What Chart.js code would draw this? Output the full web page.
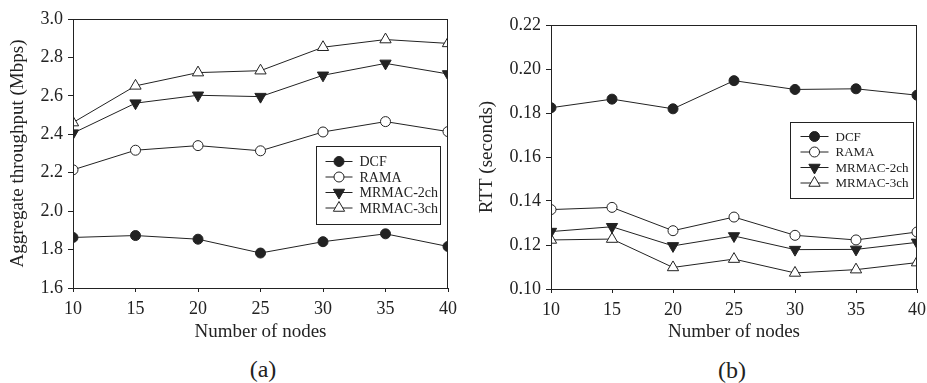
<!DOCTYPE html>
<html>
<head>
<meta charset="utf-8">
<script src="https://cdn.jsdelivr.net/npm/chart.js@4"></script>
<style>
    body { margin: 0; background: #fff; }
    .wrap { position: absolute; top: 0; height: 345px; }
    .cap { position: absolute; font: 24px "Liberation Serif", serif; color: #222; transform: translate(-50%, -50%); }
</style>
</head>
<body>
<div class="wrap" style="left:0;width:460px"><canvas id="thrChart"></canvas></div>
<div class="wrap" style="left:460px;width:467px"><canvas id="rttChart"></canvas></div>
<div class="cap" style="left:263px;top:369px">(a)</div>
<div class="cap" style="left:732px;top:370px">(b)</div>
<script>
// number of nodes
const nodes = [10, 15, 20, 25, 30, 35, 40];
const seriesNames = ['DCF', 'RAMA', 'MRMAC-2ch', 'MRMAC-3ch'];

// (a) aggregate throughput, Mbps
const thrDCF = [1.863, 1.873, 1.854, 1.782, 1.841, 1.882, 1.816];
const thrRAMA = [2.215, 2.317, 2.341, 2.314, 2.412, 2.466, 2.414];
const thr2ch = [2.406, 2.562, 2.603, 2.596, 2.707, 2.769, 2.714];
const thr3ch = [2.461, 2.652, 2.721, 2.731, 2.853, 2.893, 2.873];
const thrTicks = [1.6, 1.8, 2.0, 2.2, 2.4, 2.6, 2.8, 3.0];

// (b) RTT, seconds
const rttDCF = [0.1824, 0.1863, 0.1819, 0.1947, 0.1907, 0.1910, 0.1881];
const rttRAMA = [0.1361, 0.1371, 0.1265, 0.1327, 0.1244, 0.1223, 0.1259];
const rtt2ch = [0.1261, 0.1283, 0.1196, 0.1241, 0.1179, 0.1180, 0.1212];
const rtt3ch = [0.1223, 0.1227, 0.1098, 0.1136, 0.1073, 0.1088, 0.1120];
const rttTicks = [0.10, 0.12, 0.14, 0.16, 0.18, 0.20, 0.22];

const ink = '#222';
const serif = '"Liberation Serif", "Times New Roman", serif';

// marker look per series: filled circle, open circle, filled down-triangle, open up-triangle
const markers = [
    { pointStyle: 'circle', pointRadius: 5, pointBackgroundColor: ink, pointRotation: 0 },
    { pointStyle: 'circle', pointRadius: 5, pointBackgroundColor: '#fff', pointRotation: 0 },
    { pointStyle: 'triangle', pointRadius: 6.5, pointBackgroundColor: ink, pointRotation: 180 },
    { pointStyle: 'triangle', pointRadius: 6.5, pointBackgroundColor: '#fff', pointRotation: 0 }
];

function makeDatasets(list) {
    return list.map((vals, i) => Object.assign({
        label: seriesNames[i],
        data: nodes.map((n, k) => ({ x: n, y: vals[k] })),
        borderColor: ink,
        borderWidth: 1,
        pointBorderColor: ink,
        pointBorderWidth: 1,
        pointHoverRadius: 5,
        tension: 0
    }, markers[i]));
}

// frame around the plot area + boxed legend inside it
const boxLegend = {
    id: 'boxLegend',
    afterDatasetsDraw(chart, args, o) {
        const ctx = chart.ctx, a = chart.chartArea;
        ctx.save();
        ctx.strokeStyle = ink;
        ctx.lineWidth = 1;
        ctx.strokeRect(Math.round(a.left) + 0.5, Math.round(a.top) + 0.5,
            Math.round(a.right - a.left) - 1, Math.round(a.bottom - a.top));

        const bx = Math.round(a.right - o.right - o.width) + 0.5;
        const by = Math.round(a.top + o.top) + 0.5;
        ctx.fillStyle = '#fff';
        ctx.fillRect(bx, by, o.width, o.height);
        ctx.strokeRect(bx, by, o.width, o.height);

        ctx.font = o.fontSize + 'px ' + serif;
        ctx.textBaseline = 'middle';
        chart.data.datasets.forEach((ds, i) => {
            const cy = by + o.rowTop + i * o.rowGap;
            ctx.strokeStyle = ink;
            ctx.beginPath();
            ctx.moveTo(bx + o.line0, cy);
            ctx.lineTo(bx + o.line1, cy);
            ctx.stroke();
            ctx.fillStyle = ds.pointBackgroundColor;
            Chart.helpers.drawPoint(ctx, {
                pointStyle: ds.pointStyle,
                radius: ds.pointRadius,
                rotation: ds.pointRotation,
                borderWidth: 1
            }, bx + (o.line0 + o.line1) / 2, cy);
            ctx.fillStyle = ink;
            ctx.fillText(ds.label, bx + o.textX, cy + 1);
        });
        ctx.restore();
    }
};

function makeChart(id, datasets, yTicks, digits, yTitle, dims) {
    const ctx = document.getElementById(id).getContext('2d');
    return new Chart(ctx, {
        type: 'line',
        data: { datasets: datasets },
        options: {
            responsive: true,
            maintainAspectRatio: false,
            animation: false,
            layout: { padding: { top: dims.top, right: dims.right, left: 0, bottom: 0 } },
            scales: {
                x: {
                    type: 'linear',
                    min: nodes[0],
                    max: nodes[nodes.length - 1],
                    afterBuildTicks: (s) => { s.ticks = nodes.map(v => ({ value: v })); },
                    afterFit: (s) => { s.height = dims.xH; s.paddingLeft = 0; s.paddingRight = 0; },
                    grid: { display: true, drawOnChartArea: false, tickLength: 4, color: ink },
                    border: { display: true, color: ink },
                    ticks: { color: ink, padding: 6, maxRotation: 0, font: { family: serif, size: 18 } },
                    title: { display: true, text: 'Number of nodes', color: ink,
                        padding: { top: 0, bottom: 2 }, font: { family: serif, size: 19 } }
                },
                y: {
                    min: yTicks[0],
                    max: yTicks[yTicks.length - 1],
                    afterBuildTicks: (s) => { s.ticks = yTicks.map(v => ({ value: v })); },
                    afterFit: (s) => { s.width = dims.yW; },
                    grid: { display: true, drawOnChartArea: false, tickLength: 5, color: ink },
                    border: { display: true, color: ink },
                    ticks: { color: ink, padding: 5, callback: (v) => Number(v).toFixed(digits),
                        font: { family: serif, size: 18 } },
                    title: { display: true, text: yTitle, color: ink,
                        padding: { top: dims.titlePad, bottom: 0 }, font: { family: serif, size: 19 } }
                }
            },
            plugins: {
                legend: { display: false },
                tooltip: { enabled: false },
                boxLegend: dims.legend
            }
        },
        plugins: [boxLegend]
    });
}

makeChart('thrChart', makeDatasets([thrDCF, thrRAMA, thr2ch, thr3ch]), thrTicks, 1,
    'Aggregate throughput (Mbps)',
    { top: 19, right: 12, xH: 57, yW: 73, titlePad: 7,
      legend: { width: 124, height: 78, right: 8, top: 127, rowTop: 15, rowGap: 15.5, line0: 9, line1: 36, textX: 43, fontSize: 14 } });

makeChart('rttChart', makeDatasets([rttDCF, rttRAMA, rtt2ch, rtt3ch]), rttTicks, 2,
    'RTT (seconds)',
    { top: 25, right: 10, xH: 56, yW: 91, titlePad: 16,
      legend: { width: 123, height: 76, right: 4, top: 97, rowTop: 14, rowGap: 15.5, line0: 10, line1: 38, textX: 45, fontSize: 13 } });
</script>
</body>
</html>
